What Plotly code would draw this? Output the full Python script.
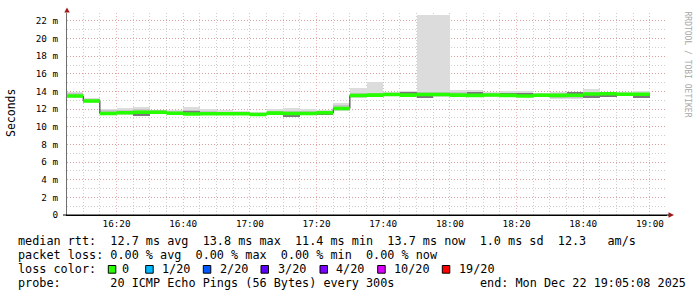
import pandas as pd
import plotly.graph_objects as go

# ---------------- data ----------------
bin_start = pd.date_range("2025-12-22 16:05", periods=35, freq="5min")
data_end = pd.Timestamp("2025-12-22 19:00")
x_range = ["2025-12-22 16:05:08", "2025-12-22 19:05:08"]

median = [13.48, 12.93, 11.50, 11.58, 11.66, 11.65, 11.53, 11.46, 11.49, 11.49,
          11.47, 11.40, 11.55, 11.50, 11.50, 11.58, 12.08, 13.55, 13.59, 13.65,
          13.59, 13.65, 13.65, 13.59, 13.56, 13.60, 13.56, 13.50, 13.58, 13.56,
          13.58, 13.72, 13.74, 13.69, 13.70]

smoke_hi = [13.95, 13.25, 12.00, 12.12, 12.20, 11.95, 11.95, 12.28, 11.97, 11.85,
            11.78, 11.70, 11.99, 12.08, 12.05, 11.92, 12.72, 14.44, 15.05, 13.95,
            14.06, 22.70, 22.70, 14.20, 14.20, 13.92, 14.05, 14.05, 13.88, 14.00,
            13.88, 14.29, 13.90, 13.90, 14.05]

smoke_lo = [13.30, 12.72, 11.35, 11.38, 11.35, 11.45, 11.40, 11.35, 11.38, 11.38,
            11.35, 11.25, 11.38, 11.28, 11.38, 11.40, 11.83, 13.30, 13.40, 13.45,
            13.40, 13.38, 13.40, 13.35, 13.38, 13.40, 13.38, 13.35, 13.38, 13.15,
            13.15, 13.30, 13.45, 13.50, 13.25]

mid_hi = [13.80, 13.15, 11.85, 11.90, 12.00, 11.85, 11.80, 11.95, 11.80, 11.72,
          11.68, 11.60, 11.78, 11.80, 11.80, 11.78, 12.45, 13.85, 13.85, 13.85,
          13.95, 13.90, 13.90, 13.90, 13.95, 13.82, 13.85, 13.82, 13.78, 13.80,
          13.80, 14.00, 13.85, 13.85, 13.85]

mid_lo = [13.35, 12.78, 11.40, 11.42, 11.40, 11.50, 11.45, 11.40, 11.42, 11.42,
          11.40, 11.30, 11.42, 11.32, 11.42, 11.45, 11.90, 13.40, 13.45, 13.50,
          13.45, 13.42, 13.45, 13.40, 13.42, 13.45, 13.42, 13.40, 13.42, 13.25,
          13.22, 13.35, 13.50, 13.55, 13.35]

dark_ping = [None, None, None, None, 11.42, None, None, 11.66, None, None,
             None, None, None, 11.32, None, 11.47, None, None, None, None,
             13.88, 13.46, None, None, 13.86, None, 13.72, 13.72, None, None,
             13.85, 13.45, 13.52, None, 13.45]

y_tickvals = [0, 2, 4, 6, 8, 10, 12, 14, 16, 18, 20, 22]
y_ticktext = ["0", "2 m", "4 m", "6 m", "8 m", "10 m", "12 m", "14 m",
              "16 m", "18 m", "20 m", "22 m"]

loss_labels = ["0", "1/20", "2/20", "3/20", "4/20", "10/20", "19/20"]
loss_colors = ["#26ff00", "#00b8ff", "#0059ff", "#5e00ff", "#7e00ff", "#dd00ff", "#ff0000"]

line_rtt = "median rtt:  12.7 ms avg  13.8 ms max  11.4 ms min  13.7 ms now  1.0 ms sd  12.3   am/s"
line_loss = "packet loss: 0.00 % avg  0.00 % max  0.00 % min  0.00 % now"
line_probe = "probe:       20 ICMP Echo Pings (56 Bytes) every 300s"
line_end = "end: Mon Dec 22 19:05:08 2025"

# ---------------- geometry helpers ----------------
W, H = 697, 297
L, R, T, B = 67, 30, 13, 82
PW, PH = W - L - R, H - T - B


def fx(px):
    return (px - L) / PW


def fy(py):
    return (H - B - py) / PH


STEP_MS = 300000
centers = bin_start + pd.Timedelta(seconds=150)
MONO = "DejaVu Sans Mono"

fig = go.Figure()


def band(lo, hi, color):
    xs, bs, hs = [], [], []
    for c, l, h in zip(centers, lo, hi):
        xs.append(c)
        bs.append(l)
        hs.append(h - l)
    fig.add_bar(x=xs, y=hs, base=bs, width=STEP_MS,
                marker=dict(color=color, line=dict(width=0)),
                hoverinfo="skip", showlegend=False)


band(smoke_lo, smoke_hi, "#dcdcdc")
band(mid_lo, mid_hi, "#c6c6c6")

# dark ping strips
dk_x = [c for c, v in zip(centers, dark_ping) if v is not None]
dk_v = [v for v in dark_ping if v is not None]
fig.add_bar(x=dk_x, y=[0.2] * len(dk_v), base=[v - 0.1 for v in dk_v], width=STEP_MS,
            marker=dict(color="#7a7a7a", line=dict(width=0)),
            hoverinfo="skip", showlegend=False)

# median step line (dark)
step_x = list(bin_start) + [data_end]
fig.add_scatter(x=step_x, y=median + [median[-1]],
                mode="lines", line=dict(color="#202020", width=1, shape="hv"),
                hoverinfo="skip", showlegend=False)

# loss coloured band around the median (filled between two step edges)
SW = 0.2
lower = [m - SW for m in median]
upper = [m + SW for m in median]
fig.add_scatter(x=step_x, y=lower + [lower[-1]], mode="lines",
                line=dict(width=0, shape="hv", color=loss_colors[0]),
                hoverinfo="skip", showlegend=False)
fig.add_scatter(x=step_x, y=upper + [upper[-1]], mode="lines",
                line=dict(width=0, shape="hv", color=loss_colors[0]),
                fill="tonexty", fillcolor=loss_colors[0],
                hoverinfo="skip", showlegend=False)

major_grid = "rgba(225,130,130,0.6)"
minor_grid = "rgba(190,190,190,0.75)"

fig.update_layout(
    width=W, height=H,
    margin=dict(l=L, r=R, t=T, b=B, pad=0),
    paper_bgcolor="white", plot_bgcolor="white",
    barmode="overlay", bargap=0,
    showlegend=False,
    font=dict(family=MONO, size=9.3, color="black"),
    xaxis=dict(
        type="date", range=x_range,
        tick0="2025-12-22 16:00", dtick=1200000, tickformat="%H:%M",
        showgrid=True, gridcolor=major_grid, griddash="1px,2px", gridwidth=1,
        minor=dict(dtick=STEP_MS, tick0="2025-12-22 16:00", showgrid=True,
                   gridcolor=minor_grid, griddash="1px,2px", gridwidth=1),
        showline=True, linecolor="black", linewidth=1,
        ticks="", zeroline=False,
        tickfont=dict(family=MONO, size=9.3, color="black"),
        fixedrange=True,
    ),
    yaxis=dict(
        range=[0, 22.9],
        tickvals=y_tickvals, ticktext=y_ticktext,
        showgrid=True, gridcolor=major_grid, griddash="1px,2px", gridwidth=1,
        minor=dict(dtick=1, tick0=0, showgrid=True,
                   gridcolor=minor_grid, griddash="1px,2px", gridwidth=1),
        showline=True, linecolor="#6e6e6e", linewidth=1,
        ticks="", zeroline=False,
        ticklabelstandoff=6,
        tickfont=dict(family=MONO, size=9.3, color="black"),
        fixedrange=True,
    ),
)

shapes = []
# axis arrows
shapes.append(dict(type="path", xref="paper", yref="paper",
                   path=f"M {fx(64.3)} {fy(12.5)} L {fx(69.7)} {fy(12.5)} L {fx(67)} {fy(7.5)} Z",
                   fillcolor="#a01818", line=dict(width=0), layer="above"))
shapes.append(dict(type="path", xref="paper", yref="paper",
                   path=f"M {fx(668.5)} {fy(212.3)} L {fx(668.5)} {fy(217.7)} L {fx(674)} {fy(215)} Z",
                   fillcolor="#a01818", line=dict(width=0), layer="above"))
shapes.append(dict(type="line", xref="paper", yref="paper",
                   x0=fx(63), x1=fx(669), y0=fy(215), y1=fy(215),
                   line=dict(color="black", width=1), layer="above"))

annotations = []


def text(px, py, s, size=11.8, color="black", anchor="left", angle=0):
    annotations.append(dict(x=fx(px), y=fy(py), xref="paper", yref="paper",
                            text=s, showarrow=False, xanchor=anchor, yanchor="middle",
                            textangle=angle,
                            font=dict(family=MONO, size=size, color=color)))


text(16, 241.5, line_rtt.replace(" ", "&nbsp;"))
text(16, 255.3, line_loss.replace(" ", "&nbsp;"))
text(16, 269.2, "loss color:")
text(16, 283, line_probe.replace(" ", "&nbsp;"))
text(478, 283, line_end.replace(" ", "&nbsp;"))

box_x = [108.3, 145.7, 203.3, 261.0, 320.0, 377.7, 442.3]
label_x = [120.0, 160.0, 218.3, 276.0, 334.3, 392.3, 456.7]
for bx, lx, lab, col in zip(box_x, label_x, loss_labels, loss_colors):
    shapes.append(dict(type="rect", xref="paper", yref="paper",
                       x0=fx(bx), x1=fx(bx + 7.5), y0=fy(273.2), y1=fy(265.5),
                       fillcolor=col, line=dict(color="black", width=1)))
    text(lx, 269.2, lab)

text(11, 113, "Seconds", size=11.5, anchor="center", angle=-90)
text(687.5, 64, "RRDTOOL / TOBI OETIKER", size=8, color="#a8a8a8", anchor="center", angle=90)

fig.update_layout(shapes=shapes, annotations=annotations)
fig.write_html("out.html")
